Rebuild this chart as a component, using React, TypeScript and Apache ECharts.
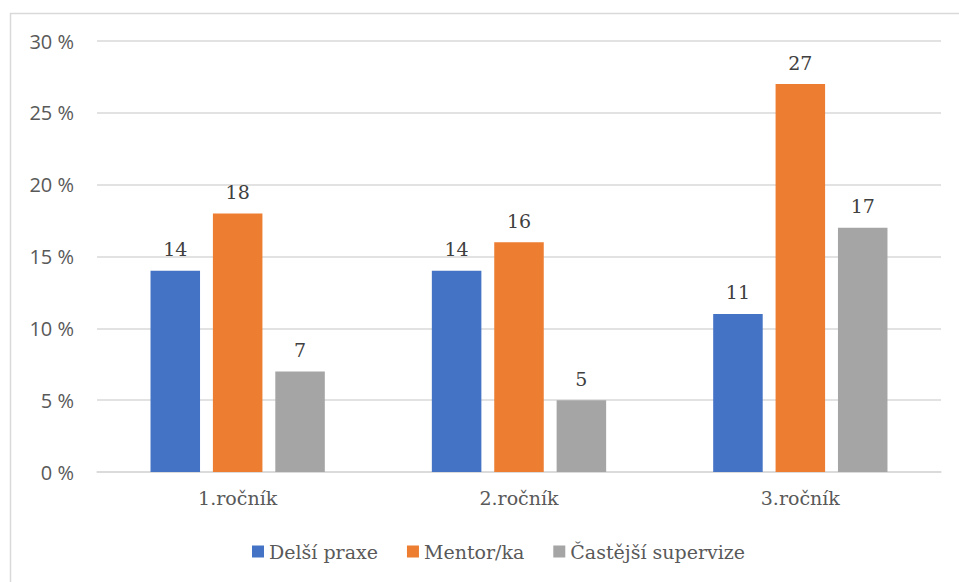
import React, { useEffect, useRef } from "react";
import * as echarts from "echarts";

const categories = ["1.ročník", "2.ročník", "3.ročník"];
const seriesNames = ["Delší praxe", "Mentor/ka", "Častější supervize"];
const delsiPraxe = [14, 14, 11];
const mentorKa = [18, 16, 27];
const castejsiSupervize = [7, 5, 17];
const yTicks = { min: 0, max: 30, interval: 5 };

const colors = ["#4472C4", "#ED7D31", "#A5A5A5"];
const serif = "DejaVu Serif";

export default function App() {
  const ref = useRef<HTMLDivElement>(null);
  useEffect(() => {
    if (!ref.current) return;
    const chart = echarts.init(ref.current, undefined, { renderer: "svg" });
    const values = [delsiPraxe, mentorKa, castejsiSupervize];
    chart.setOption({
      animation: false,
      backgroundColor: "#ffffff",
      graphic: [
        {
          type: "rect",
          shape: { x: 10.5, y: 13.5, width: 960, height: 600 },
          style: { fill: "none", stroke: "#D9D9D9", lineWidth: 1.5 },
          silent: true,
        },
      ],
      grid: { left: 97, right: 18, top: 41, bottom: 110, containLabel: false },
      legend: {
        bottom: 16,
        left: 247,
        itemWidth: 12,
        itemHeight: 12,
        itemGap: 29,
        icon: "rect",
        textStyle: { fontFamily: serif, fontSize: 19, color: "#595959" },
        data: seriesNames,
      },
      xAxis: {
        type: "category",
        data: categories,
        axisLine: { lineStyle: { color: "#D9D9D9", width: 1.5 } },
        axisTick: { show: false },
        axisLabel: { fontFamily: serif, fontSize: 19, color: "#595959", margin: 16 },
      },
      yAxis: {
        type: "value",
        min: yTicks.min,
        max: yTicks.max,
        interval: yTicks.interval,
        axisLine: { show: false },
        axisTick: { show: false },
        splitLine: { lineStyle: { color: "#D9D9D9", width: 1.5 } },
        axisLabel: {
          formatter: "{value} %",
          fontFamily: "Open Sans",
          fontSize: 20,
          color: "#595959",
          margin: 23,
        },
      },
      series: seriesNames.map((name, i) => ({
        name,
        type: "bar",
        data: values[i],
        barWidth: "17.6%",
        barGap: "26%",
        itemStyle: { color: colors[i] },
        label: {
          show: true,
          position: "top",
          distance: 12,
          fontFamily: serif,
          fontSize: 19,
          color: "#404040",
        },
      })),
    });
    return () => chart.dispose();
  }, []);
  return (
    <div
      ref={ref}
      style={{ position: "absolute", left: 0, top: 0, width: 959, height: 582 }}
    />
  );
}
